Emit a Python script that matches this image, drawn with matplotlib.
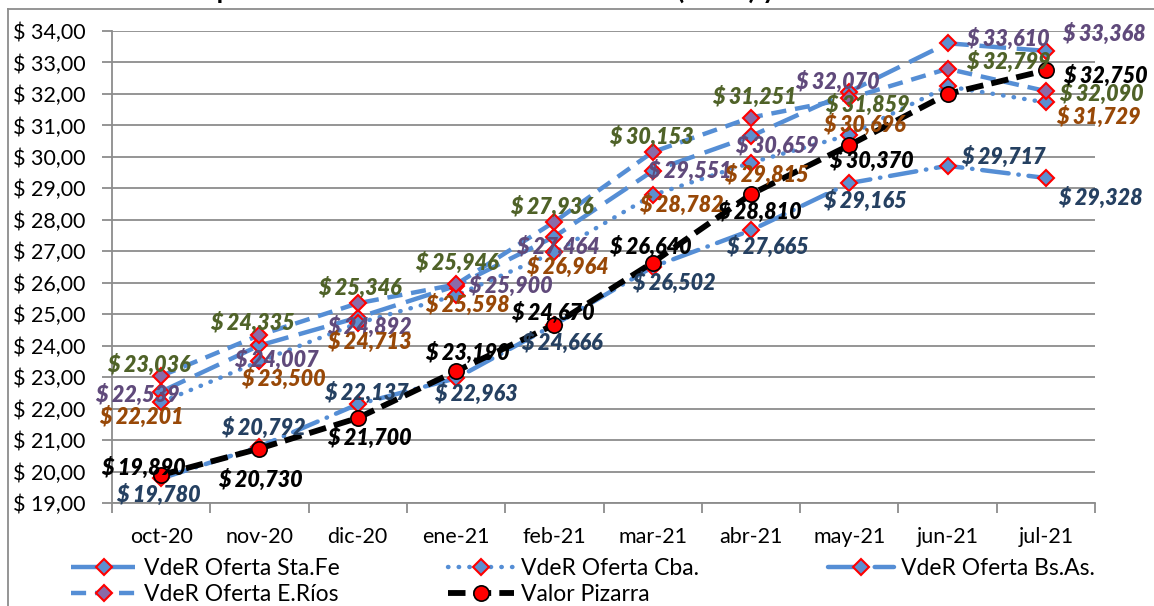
import matplotlib as mpl
mpl.use('Agg')
import matplotlib.pyplot as plt
from matplotlib.lines import Line2D
import numpy as np

plt.rcParams['font.family'] = ['Lato', 'DejaVu Sans']

### DATA ###
months = ['oct-20', 'nov-20', 'dic-20', 'ene-21', 'feb-21', 'mar-21',
          'abr-21', 'may-21', 'jun-21', 'jul-21']
stafe = [22.539, 24.007, 24.892, 25.900, 27.464, 29.551, 30.659, 32.070, 33.610, 33.368]
cba = [22.201, 23.500, 24.713, 25.598, 26.964, 28.782, 29.815, 30.696, 32.24, 31.729]
bsas = [19.780, 20.792, 22.137, 22.963, 24.666, 26.502, 27.665, 29.165, 29.717, 29.328]
erios = [23.036, 24.335, 25.346, 25.946, 27.936, 30.153, 31.251, 31.859, 32.799, 32.090]
pizarra = [19.890, 20.730, 21.700, 23.190, 24.670, 26.640, 28.810, 30.370, 32.00, 32.750]
yticks = np.arange(19, 35, 1)

# label offsets (pixels, x right / y up) -- None hides the label
off_stafe = [(-24, -3), (17, -14), (12, -9), (54, 0), (4, -10), (37, 0),
             (26, -10), (-12, 10), (60, 4), (58, 17)]
off_cba = [(-20, -15), (24, -17), (12, -19), (11, -9), (13, -14), (29, -10),
           (15, -12), (15, 10), None, (53, -14)]
off_bsas = [(-3, -16), (4, 19), (9, 11), (20, -16), (8, -18), (21, -16),
            (16, -16), (16, -18), (56, 9), (55, -20)]
off_erios = [(-12, 11), (-7, 12), (2, 16), (1, 22), (-2, 15), (-1, 15),
             (3, 21), (18, -6), (61, 7), (56, -3)]
off_piz = [(-18, 7), (1, -31), (12, -20), (11, 18), (-1, 12), (-2, 16),
           (8, -18), (22, -16), None, (60, -5)]

### STYLE ###
W, H = 1154, 606
blue = '#558ED5'
grey = '#8C8C8C'
fig = plt.figure(figsize=(W / 100, H / 100), dpi=100)
ax = fig.add_axes([112 / W, 1 - 503 / H, (1095 - 112) / W, (503 - 31) / H])

x = np.arange(len(months))
common = dict(color=blue, lw=3.2, marker='D', ms=8.5, mec='#FF0000', mew=1.5)

l1, = ax.plot(x, stafe, ls=(0, (6, 2.4)), mfc='#5B8FD0', label='VdeR Oferta Sta.Fe', **common)
l2, = ax.plot(x, cba, ls=(0, (0.1, 2.3)), dash_capstyle='round', mfc='#5B8FD0',
              label='VdeR Oferta Cba.', **common)
l3, = ax.plot(x, bsas, ls=(0, (6, 2.2, 0.1, 2.2)), dash_capstyle='round', mfc='#5B8FD0',
              label='VdeR Oferta Bs.As.', **common)
l4, = ax.plot(x, erios, ls=(0, (3.4, 2)), mfc='#8A6BA8', label='VdeR Oferta E.Ríos', **common)
l5, = ax.plot(x, pizarra, color='black', lw=4.2, ls=(0, (3, 1.4)), marker='o', ms=11,
              mfc='#FF0000', mec='black', mew=1.2, label='Valor Pizarra', zorder=5)


def labels(vals, offs, color):
    for i, (v, o) in enumerate(zip(vals, offs)):
        if o is None:
            continue
        ax.annotate('$ {:,.3f}'.format(v).replace('.', ','), (x[i], v), xytext=o,
                    textcoords='offset pixels', ha='center', va='center',
                    fontsize=15.5, fontweight='heavy', fontstyle='italic',
                    color=color, zorder=10, annotation_clip=False)


labels(stafe, off_stafe, '#604A7B')
labels(erios, off_erios, '#4F6228')
labels(cba, off_cba, '#984807')
labels(bsas, off_bsas, '#254061')
labels(pizarra, off_piz, 'black')

# axes
ax.set_xlim(-0.5, len(months) - 0.5)
ax.set_ylim(19, 34)
ax.set_yticks(yticks)
ax.set_yticklabels(['$ {:.2f}'.format(v).replace('.', ',') for v in yticks], fontsize=15.5)
ax.set_xticks(np.arange(-0.5, len(months), 1))
ax.set_xticklabels([])
ax.set_xticks(x, minor=True)
ax.set_xticklabels(months, minor=True, fontsize=15.5)
ax.tick_params(axis='x', which='major', length=7, width=1.3, color=grey, direction='out')
ax.tick_params(axis='x', which='minor', length=0, pad=17)
ax.tick_params(axis='y', length=7, width=1.3, color=grey, pad=12)
ax.yaxis.grid(True, color=grey, lw=1.3)
ax.set_axisbelow(True)
for s in ['top', 'right']:
    ax.spines[s].set_visible(False)
for s in ['left', 'bottom']:
    ax.spines[s].set_color(grey)
    ax.spines[s].set_linewidth(1.3)

# legend: one small legend per column so the columns sit where they should
cols = [([l1, l4], 66), ([l2, l5], 443), ([l3], 823)]
for handles, left in cols:
    fig.legend(handles, [h.get_label() for h in handles], loc='upper left',
               bbox_to_anchor=(left / W, 1 - 553 / H), frameon=False, fontsize=16.5,
               handlelength=2.9, handletextpad=0.3, labelspacing=0.22,
               borderpad=0.2, borderaxespad=0)

# outer chart border and clipped title
fig.add_artist(Line2D([8 / W, 8 / W], [0, 1 - 9 / H], color=grey, lw=1.3))
fig.add_artist(Line2D([8 / W, 1], [1 - 9 / H, 1 - 9 / H], color=grey, lw=1.3))
fig.text(548 / W, 1 + 1 / H, 'Comparativo de Valor de Referencia Oferta (VdeR) y Valor Pizarra',
         ha='center', va='baseline', fontsize=19, fontweight='bold')

fig.savefig('out.png', dpi=100)
